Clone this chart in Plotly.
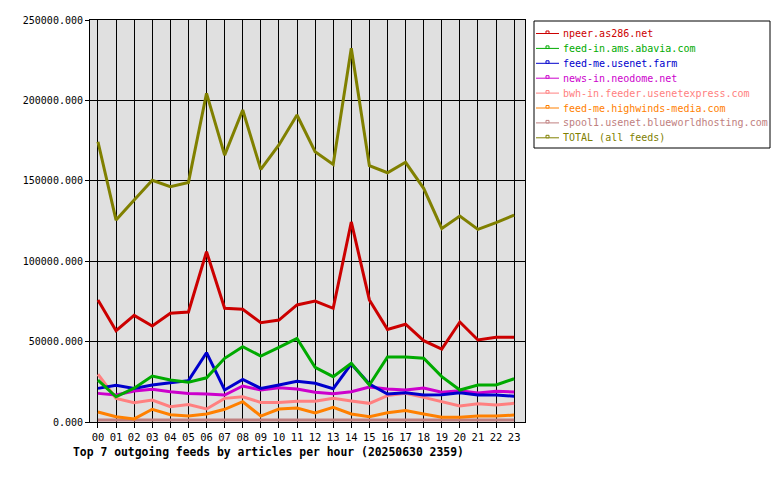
import plotly.graph_objects as go

hours = [f"{h:02d}" for h in range(24)]

names = [
    "npeer.as286.net",
    "feed-in.ams.abavia.com",
    "feed-me.usenet.farm",
    "news-in.neodome.net",
    "bwh-in.feeder.usenetexpress.com",
    "feed-me.highwinds-media.com",
    "spool1.usenet.blueworldhosting.com",
    "TOTAL (all feeds)",
]
colors = ["#cc0000", "#00aa00", "#0000cc", "#cc00cc", "#ff8080", "#ff8000", "#c08080", "#808000"]

npeer = [75900, 56800, 66300, 59700, 67600, 68400, 105900, 70700, 70100, 61800, 63400, 72800,
         75200, 70700, 124400, 75900, 57600, 60800, 50600, 45400, 62200, 51000, 52700, 52700]
abavia = [26100, 15700, 21000, 28600, 26100, 24700, 27500, 39600, 46800, 41000, 46400, 52000,
          34000, 28200, 36500, 23000, 40400, 40400, 39600, 28200, 19900, 23000, 23000, 26900]
usenet_farm = [20900, 22800, 20900, 23000, 24400, 25700, 43100, 19900, 26500, 20900, 23000, 25300,
               24100, 20700, 36100, 23600, 17400, 18200, 16800, 17000, 18200, 16800, 16800, 16000]
neodome = [17800, 16800, 19300, 20300, 18800, 17800, 17400, 16800, 22400, 19900, 21300, 20500,
           18500, 17600, 18800, 21800, 20500, 19900, 21100, 18500, 19500, 18000, 19100, 18700]
usenetexpress = [29700, 14700, 12000, 13700, 9500, 10800, 8100, 14700, 15700, 12200, 12200, 12900,
                 12900, 14700, 13100, 11600, 16400, 17800, 15300, 12700, 10000, 11400, 10600, 11600]
highwinds = [6200, 3300, 1900, 7900, 4500, 3700, 5000, 7900, 12600, 3700, 8100, 8700,
             5700, 9100, 5000, 3300, 5700, 7100, 5000, 2900, 2900, 3700, 3700, 4300]
blueworld = [1300, 1300, 1300, 1300, 1300, 1300, 1300, 1300, 1300, 1300, 1300, 1300,
             1300, 1300, 1300, 1500, 1300, 1300, 1300, 1300, 1300, 1300, 1300, 1300]
total = [174300, 125600, 138000, 150300, 146300, 149000, 204400, 166000, 194000, 157100, 172300, 190900,
         168100, 160200, 232400, 159400, 155000, 161500, 145300, 120400, 128100, 119800, 124000, 128700]

series = [npeer, abavia, usenet_farm, neodome, usenetexpress, highwinds, blueworld, total]
title_text = "Top 7 outgoing feeds by articles per hour (20250630 2359)"

W, H = 780, 480
ML, MR, MT, MB = 90, 255, 20, 58
PW, PH = W - ML - MR, H - MT - MB

def px(x):
    return (x - ML) / PW

def py(y):
    return (H - MB - y) / PH

mono = "DejaVu Sans Mono"

fig = go.Figure()
draw_order = [6, 5, 4, 3, 2, 1, 0, 7]
for i in draw_order:
    fig.add_trace(go.Scatter(x=hours, y=series[i], mode="lines", name=names[i],
                             line=dict(color=colors[i], width=3), showlegend=False,
                             hoverinfo="skip"))

# manual legend
shapes = [dict(type="rect", xref="paper", yref="paper", x0=px(534), x1=px(770), y0=py(148), y1=py(21),
               line=dict(color="black", width=1), fillcolor="white", layer="below")]
annotations = []
for k, (n, c) in enumerate(zip(names, colors)):
    yc = 33.5 + k * 14.9
    shapes.append(dict(type="line", xref="paper", yref="paper", x0=px(536), x1=px(559),
                       y0=py(yc), y1=py(yc), line=dict(color=c, width=1)))
    shapes.append(dict(type="rect", xref="paper", yref="paper", x0=px(546), x1=px(549),
                       y0=py(yc), y1=py(yc - 2.5), line=dict(color=c, width=1), fillcolor="white"))
    annotations.append(dict(text=n, xref="paper", yref="paper", x=px(561), y=py(yc),
                            xanchor="left", yanchor="middle", showarrow=False,
                            font=dict(family=mono, size=10, color=c)))

annotations.append(dict(text="<b>" + title_text + "</b>", xref="paper", yref="paper",
                        x=px(71), y=py(452), xanchor="left", yanchor="middle", showarrow=False,
                        font=dict(family=mono, size=11.4, color="black")))

fig.update_layout(
    width=W, height=H,
    margin=dict(l=ML, r=MR, t=MT, b=MB, pad=0),
    paper_bgcolor="white", plot_bgcolor="#e0e0e0",
    font=dict(family=mono, size=10, color="black"),
    showlegend=False,
    shapes=shapes, annotations=annotations,
)
fig.update_xaxes(type="category", range=[-0.44, 23.6], showgrid=True, gridcolor="black", gridwidth=1,
                 showline=True, linecolor="black", linewidth=1, mirror=True,
                 ticks="outside", ticklen=5, tickcolor="black", tickfont=dict(family=mono, size=10.5),
                 zeroline=False, fixedrange=True)
fig.update_yaxes(range=[0, 250000], dtick=50000, tickformat=".3f", showgrid=True, gridcolor="black",
                 gridwidth=1, showline=True, linecolor="black", linewidth=1, mirror=True,
                 ticks="outside", ticklen=4, tickcolor="black", tickfont=dict(family=mono, size=10),
                 zeroline=False, fixedrange=True)

fig.write_html("out.html")
